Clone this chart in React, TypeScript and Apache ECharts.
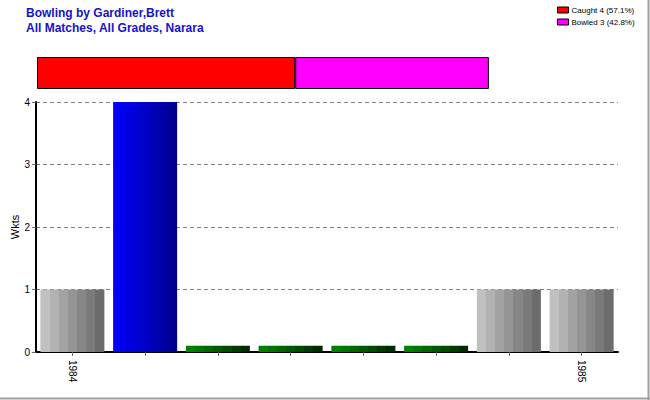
import React, { useEffect, useRef } from "react";
import * as echarts from "echarts";

const categories = ["1984", "", "", "", "", "", "", "1985"];
const wickets = [1, 4, 0.1, 0.1, 0.1, 0.1, 1, 1];
const barKinds = ["grey", "blue", "green", "green", "green", "green", "grey", "grey"];
const dismissalNames = ["Caught 4 (57.1%)", "Bowled 3 (42.8%)"];
const dismissalValues = [4, 3];
const dismissalColors = ["#ff0000", "#ff00ff"];
const yTicks = [0, 1, 2, 3, 4];

function stepped(colors: string[]) {
  const stops: { offset: number; color: string }[] = [];
  const n = colors.length;
  colors.forEach((c, i) => {
    stops.push({ offset: i / n, color: c });
    stops.push({ offset: (i + 1) / n - 0.0001, color: c });
  });
  return new echarts.graphic.LinearGradient(0, 0, 1, 0, stops);
}

function fillFor(kind: string) {
  if (kind === "grey")
    return stepped(["#c0c0c0", "#b2b2b2", "#a3a3a3", "#959595", "#878787", "#7a7a7a", "#6c6c6c"]);
  if (kind === "blue")
    return new echarts.graphic.LinearGradient(0, 0, 1, 0, [
      { offset: 0, color: "#0000ff" },
      { offset: 1, color: "#00008c" },
    ]);
  return stepped(["#008000", "#007400", "#006600", "#005800", "#004a00", "#003a00", "#002a00"]);
}

export default function App() {
  const ref = useRef<HTMLDivElement>(null);
  useEffect(() => {
    document.body.style.margin = "0";
    const chart = echarts.init(ref.current!, null, { renderer: "svg" });
    chart.setOption({
      animation: false,
      backgroundColor: "#ffffff",
      textStyle: { fontFamily: "Arial, Liberation Sans, sans-serif" },
      title: {
        text: "Bowling by Gardiner,Brett\nAll Matches, All Grades, Narara",
        left: 21,
        top: 0,
        textStyle: {
          fontSize: 12,
          fontWeight: "bold",
          color: "#1414c8",
          lineHeight: 15,
          fontFamily: "Arial, Liberation Sans, sans-serif",
        },
      },
      legend: {
        data: dismissalNames,
        orient: "vertical",
        left: 552,
        top: 1,
        itemWidth: 11,
        itemHeight: 6,
        itemGap: 4,
        icon: "rect",
        textStyle: { fontSize: 8, color: "#000", padding: [0, 0, 0, -2] },
        itemStyle: { borderColor: "#000", borderWidth: 1 },
      },
      grid: [
        { left: 36, right: 32, top: 102, bottom: 48, outerBoundsMode: "none", containLabel: false },
        { left: 37, right: 32, top: 57, height: 32, outerBoundsMode: "none", containLabel: false },
      ],
      xAxis: [
        {
          type: "category",
          gridIndex: 0,
          data: categories,
          axisLine: { show: true, lineStyle: { color: "#000", width: 2 } },
          axisTick: { show: true, alignWithLabel: true, length: 4, lineStyle: { color: "#666" } },
          axisLabel: { interval: 0, rotate: -90, fontSize: 10, color: "#000", margin: 8 },
        },
        {
          type: "value",
          gridIndex: 1,
          min: 0,
          max: 9,
          show: false,
        },
      ],
      yAxis: [
        {
          type: "value",
          gridIndex: 0,
          min: 0,
          max: 4,
          interval: 1,
          name: "Wkts",
          nameLocation: "middle",
          nameGap: 16,
          nameMoveOverlap: false,
          nameTextStyle: { fontSize: 11, color: "#000" },
          axisLine: { show: true, lineStyle: { color: "#000", width: 2 } },
          axisTick: { show: true, length: 4, lineStyle: { color: "#666" } },
          axisLabel: {
            fontSize: 10,
            color: "#000",
            margin: 6,
            formatter: (v: number) => (yTicks.includes(v) ? String(v) : ""),
          },
          splitLine: { show: true, lineStyle: { color: "#808080", type: [4, 3], width: 1 } },
        },
        {
          type: "category",
          gridIndex: 1,
          data: ["d"],
          show: false,
        },
      ],
      series: [
        {
          type: "bar",
          xAxisIndex: 0,
          yAxisIndex: 0,
          barCategoryGap: "12%",
          data: wickets.map((v, i) => ({
            value: v,
            itemStyle: { color: fillFor(barKinds[i]) },
          })),
        },
        ...dismissalNames.map((name, i) => ({
          type: "bar",
          name,
          xAxisIndex: 1,
          yAxisIndex: 1,
          stack: "dismissals",
          barWidth: 32,
          data: [dismissalValues[i]],
          itemStyle: { color: dismissalColors[i], borderColor: "#000", borderWidth: 1 },
        })),
      ],
      graphic: [
        { type: "line", shape: { x1: 648.5, y1: 0, x2: 648.5, y2: 400 }, style: { stroke: "#a0a0a0", lineWidth: 2 } },
        { type: "line", shape: { x1: 0, y1: 398.5, x2: 650, y2: 398.5 }, style: { stroke: "#a0a0a0", lineWidth: 2 } },
      ],
    });
    return () => chart.dispose();
  }, []);
  return <div ref={ref} style={{ width: 650, height: 400 }} />;
}
